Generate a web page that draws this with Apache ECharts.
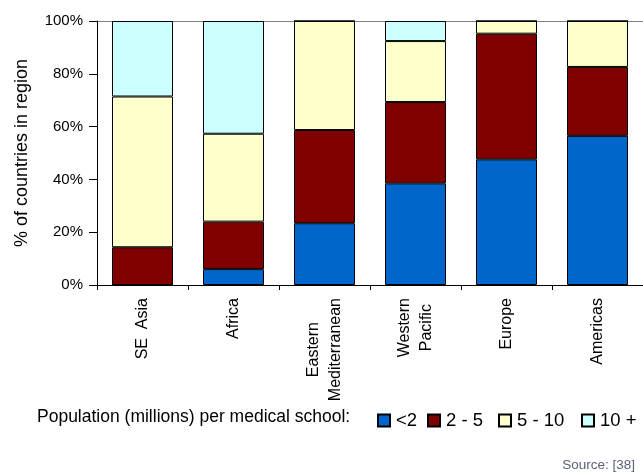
<!DOCTYPE html>
<html><head><meta charset="utf-8">
<script src="https://cdn.jsdelivr.net/npm/echarts@6/dist/echarts.min.js"></script>
<style>html,body{margin:0;padding:0;background:#fff}#c{width:643px;height:472px}</style>
</head><body><div id="c"></div>
<script>
const categories = ['SE  Asia', 'Africa', 'Eastern\nMediterranean', 'Western\nPacific', 'Europe', 'Americas'];
const seriesNames = ['<2', '2 - 5', '5 - 10', '10 +'];
const lt2 = [0, 6.0, 23.4, 38.5, 47.6, 56.5];
const from2to5 = [14.3, 18.0, 35.3, 30.8, 47.6, 26.1];
const from5to10 = [57.1, 33.3, 41.3, 23.1, 4.8, 17.4];
const over10 = [28.6, 42.7, 0, 7.6, 0, 0];
const yTicks = [0, 20, 40, 60, 80, 100];

const FONT = 'Liberation Sans, Arial, sans-serif';
const colors = ['#0066CC', '#800000', '#FFFFCC', '#CCFFFF'];
const values = [lt2, from2to5, from5to10, over10];
const legendLefts = [372, 422, 493, 576];

const chart = echarts.init(document.getElementById('c'));
chart.setOption({
  animation: false,
  textStyle: { fontFamily: FONT },
  grid: { left: 97, right: 0, top: 21, bottom: 187, containLabel: false },
  legend: seriesNames.map((n, i) => ({
    data: [n],
    left: legendLefts[i], top: 406,
    itemWidth: 12, itemHeight: 12,
    icon: 'rect',
    textStyle: { fontSize: 18.5, color: '#000', fontFamily: FONT, padding: [0, 0, 0, 1] }
  })),
  graphic: [
    { type: 'text', left: 37, top: 408, style: { text: 'Population (millions) per medical school:', fontSize: 17.5, fill: '#000', fontFamily: FONT } },
    { type: 'text', right: 8, top: 458, style: { text: 'Source: [38]', fontSize: 13.5, fill: '#59607a', fontFamily: FONT } }
  ],
  xAxis: {
    type: 'category', data: categories,
    axisLine: { lineStyle: { color: '#000', width: 1 } },
    axisTick: { show: true, length: 5, alignWithLabel: false, lineStyle: { color: '#000' } },
    axisLabel: {
      rotate: 90, margin: 13, interval: 0, color: '#000', fontSize: 16, lineHeight: 22,
      formatter: v => v.split('\n').map(s => '{c|' + s + '}').join('\n'),
      rich: { c: { align: 'center', fontSize: 16, lineHeight: 22, fontFamily: FONT, color: '#000' } }
    }
  },
  yAxis: {
    type: 'value', min: yTicks[0], max: yTicks[yTicks.length - 1], interval: 20,
    name: '% of countries in region', nameLocation: 'middle', nameGap: 66, nameRotate: 90,
    nameTextStyle: { fontSize: 18, color: '#000', fontFamily: FONT },
    axisLine: { show: true, lineStyle: { color: '#000', width: 1 } },
    axisTick: { show: true, length: 8, lineStyle: { color: '#000' } },
    axisLabel: { formatter: '{value}%', margin: 14, fontSize: 15, color: '#000' },
    splitLine: { show: true, lineStyle: { color: ['rgba(0,0,0,0)', 'rgba(0,0,0,0)', 'rgba(0,0,0,0)', 'rgba(0,0,0,0)', 'rgba(0,0,0,0)', '#808080'] } }
  },
  series: seriesNames.map((n, i) => ({
    name: n, type: 'bar', stack: 'total', data: values[i],
    barCategoryGap: '33%',
    itemStyle: { color: colors[i], borderColor: '#000', borderWidth: 1 },
    emphasis: { disabled: true }
  }))
});
</script></body></html>
